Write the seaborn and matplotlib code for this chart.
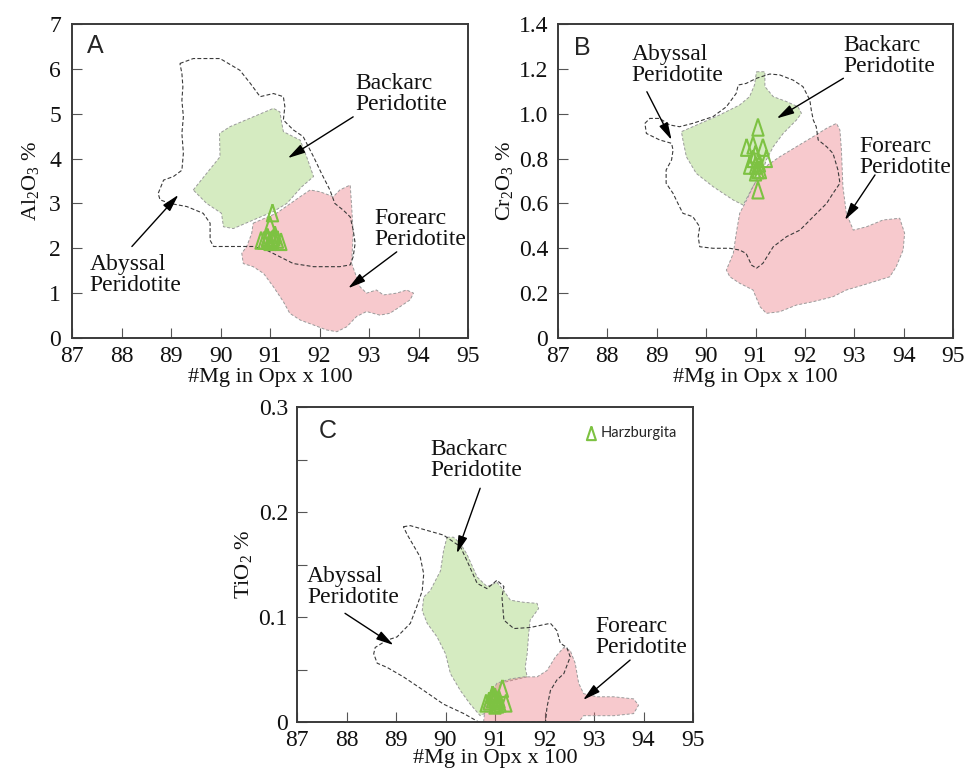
import matplotlib
matplotlib.use('Agg')
import matplotlib.pyplot as plt
import seaborn as sns
import pandas as pd

# ---------------- data ----------------
mg_opx = [91.05, 90.82, 90.95, 91.15, 91.22, 90.88, 91.0, 91.08, 91.05, 91.1, 91.0, 91.05, 90.95, 91.0]
al2o3 = [2.79, 2.18, 2.22, 2.20, 2.15, 2.18, 2.52, 2.25, 2.20, 2.30, 2.15, 2.20, 2.25, 2.18]
cr2o3 = [0.94, 0.85, 0.86, 0.85, 0.80, 0.77, 0.82, 0.78, 0.75, 0.75, 0.74, 0.66, 0.80, 0.77]
tio2 = [0.020, 0.018, 0.022, 0.032, 0.018, 0.020, 0.024, 0.022, 0.020, 0.018, 0.016, 0.017, 0.026, 0.022]

x_ticks = [87, 88, 89, 90, 91, 92, 93, 94, 95]
a_yticks = [0, 1, 2, 3, 4, 5, 6, 7]
b_yticks = [0, 0.2, 0.4, 0.6, 0.8, 1.0, 1.2, 1.4]
b_ylabels = ["0", "0.2", "0.4", "0.6", "0.8", "1.0", "1.2", "1.4"]
c_yticks = [0, 0.1, 0.2, 0.3]
c_ylabels = ["0", "0.1", "0.2", "0.3"]
c_minor = [0.05, 0.15, 0.25]

# Panel A fields
A_back_x = [89.45, 89.72, 89.99, 89.98, 90.19, 90.66, 91.07, 91.20, 91.24, 91.27, 91.61, 91.74, 91.88, 91.64, 91.34, 91.07, 90.66, 90.26, 90.06, 90.02, 89.72]
A_back_y = [3.30, 3.67, 4.04, 4.56, 4.71, 4.93, 5.12, 5.04, 4.78, 4.60, 4.41, 4.04, 3.60, 3.37, 3.00, 2.82, 2.63, 2.44, 2.48, 2.78, 3.00]
A_fore_x = [90.66, 91.13, 91.61, 91.81, 92.01, 92.28, 92.41, 92.62, 92.65, 92.68, 92.65, 92.82, 92.95, 93.15, 93.29, 93.56, 93.76, 93.90, 93.83, 93.63, 93.42, 93.22, 92.95, 92.75, 92.55, 92.35, 92.14, 91.88, 91.61, 91.40, 91.27, 91.07, 90.87, 90.66, 90.46, 90.43, 90.53, 90.63]
A_fore_y = [2.56, 2.78, 3.15, 3.30, 3.26, 3.15, 3.30, 3.41, 2.93, 2.33, 1.66, 1.14, 1.00, 1.07, 0.96, 1.00, 1.07, 1.00, 0.85, 0.70, 0.55, 0.51, 0.59, 0.48, 0.25, 0.14, 0.18, 0.29, 0.40, 0.55, 0.81, 1.14, 1.44, 1.59, 1.66, 1.89, 2.04, 2.33]
A_aby_x = [89.18, 89.45, 89.99, 90.39, 90.60, 90.80, 91.07, 91.27, 91.30, 91.27, 91.47, 91.67, 91.88, 92.04, 92.21, 92.31, 92.48, 92.62, 92.68, 92.72, 92.68, 92.62, 92.41, 91.88, 91.47, 91.20, 90.93, 90.66, 90.26, 89.86, 89.79, 89.79, 89.65, 89.32, 88.98, 88.78, 88.74, 88.85, 89.05, 89.22, 89.25, 89.22, 89.25, 89.22, 89.24, 89.22]
A_aby_y = [6.12, 6.23, 6.23, 5.97, 5.68, 5.38, 5.45, 5.38, 5.16, 4.86, 4.64, 4.49, 4.04, 3.67, 3.30, 3.00, 2.85, 2.70, 2.41, 2.11, 1.81, 1.63, 1.59, 1.59, 1.66, 1.81, 1.96, 2.04, 2.04, 2.04, 2.18, 2.56, 2.78, 2.93, 3.00, 3.08, 3.22, 3.52, 3.60, 3.74, 4.12, 4.56, 4.93, 5.30, 5.60, 5.90]

# Panel B fields
B_back_x = [91.02, 91.19, 91.19, 91.36, 91.63, 91.86, 91.93, 91.83, 91.56, 91.36, 91.22, 91.15, 90.95, 90.75, 90.55, 90.14, 89.80, 89.60, 89.53, 89.50, 89.73, 90.27, 90.68, 90.88, 90.98]
B_back_y = [1.187, 1.187, 1.121, 1.076, 1.054, 1.031, 1.002, 0.972, 0.912, 0.853, 0.794, 0.749, 0.675, 0.593, 0.615, 0.675, 0.734, 0.808, 0.883, 0.920, 0.942, 0.994, 1.039, 1.076, 1.128]
B_fore_x = [91.15, 91.49, 91.83, 92.17, 92.44, 92.64, 92.71, 92.74, 92.77, 92.84, 92.98, 93.25, 93.58, 93.92, 94.02, 93.99, 93.85, 93.72, 93.18, 92.84, 92.57, 92.17, 91.83, 91.49, 91.22, 91.09, 90.95, 90.68, 90.48, 90.41, 90.55, 90.61, 90.68, 90.82, 90.95]
B_fore_y = [0.756, 0.808, 0.853, 0.898, 0.935, 0.957, 0.927, 0.838, 0.675, 0.556, 0.481, 0.496, 0.526, 0.534, 0.467, 0.392, 0.318, 0.273, 0.236, 0.214, 0.184, 0.162, 0.147, 0.117, 0.110, 0.140, 0.214, 0.244, 0.273, 0.303, 0.377, 0.467, 0.556, 0.615, 0.675]
B_aby_x = [88.76, 88.86, 89.06, 89.26, 89.46, 89.73, 90.14, 90.41, 90.61, 90.65, 90.81, 91.02, 91.29, 91.49, 91.76, 91.96, 92.10, 92.13, 92.17, 92.23, 92.27, 92.44, 92.57, 92.67, 92.71, 92.57, 92.44, 92.17, 91.90, 91.63, 91.36, 91.15, 91.02, 90.92, 90.81, 90.68, 90.48, 90.14, 89.87, 89.84, 89.87, 89.73, 89.53, 89.46, 89.33, 89.19, 89.19, 89.30, 89.33, 89.30, 89.06, 88.79]
B_aby_y = [0.957, 0.979, 0.979, 0.950, 0.942, 0.957, 0.987, 1.031, 1.091, 1.128, 1.135, 1.158, 1.177, 1.173, 1.150, 1.121, 1.061, 1.016, 0.972, 0.942, 0.883, 0.853, 0.823, 0.749, 0.690, 0.645, 0.600, 0.541, 0.481, 0.452, 0.407, 0.333, 0.311, 0.325, 0.377, 0.392, 0.400, 0.400, 0.407, 0.452, 0.496, 0.541, 0.556, 0.586, 0.645, 0.690, 0.749, 0.794, 0.838, 0.868, 0.883, 0.912]

# Panel C fields
C_back_x = [90.03, 90.16, 90.30, 90.43, 90.64, 90.84, 91.04, 91.18, 91.31, 91.58, 91.85, 91.88, 91.71, 91.68, 91.65, 91.61, 91.65, 91.38, 91.11, 90.95, 90.70, 90.50, 90.30, 90.10, 90.00, 89.83, 89.63, 89.53, 89.56, 89.69, 89.90, 89.96]
C_back_y = [0.176, 0.176, 0.170, 0.160, 0.138, 0.129, 0.133, 0.125, 0.116, 0.114, 0.113, 0.108, 0.097, 0.084, 0.065, 0.052, 0.043, 0.040, 0.037, 0.012, 0.006, 0.017, 0.030, 0.046, 0.065, 0.081, 0.094, 0.106, 0.119, 0.125, 0.144, 0.163]
C_fore_x = [90.77, 90.80, 90.91, 91.04, 91.31, 91.58, 91.85, 92.05, 92.22, 92.39, 92.52, 92.62, 92.69, 92.79, 93.06, 93.40, 93.80, 93.90, 93.80, 93.40, 93.06, 92.79, 92.69]
C_fore_y = [0.000, 0.014, 0.027, 0.037, 0.041, 0.043, 0.043, 0.049, 0.062, 0.071, 0.068, 0.056, 0.037, 0.027, 0.024, 0.024, 0.022, 0.016, 0.008, 0.006, 0.006, 0.006, 0.000]
C_aby_x = [89.15, 89.29, 89.96, 90.30, 90.43, 90.64, 90.84, 91.04, 91.18, 91.14, 91.18, 91.38, 91.71, 92.12, 92.25, 92.32, 92.45, 92.52, 92.39, 92.25, 92.12, 92.05, 92.02, 90.67, 90.37, 89.96, 89.56, 89.15, 88.82, 88.62, 88.55, 88.58, 88.82, 89.02, 89.29, 89.42, 89.53, 89.56, 89.49, 89.22]
C_aby_y = [0.186, 0.187, 0.178, 0.167, 0.154, 0.132, 0.127, 0.135, 0.129, 0.119, 0.097, 0.089, 0.090, 0.094, 0.087, 0.075, 0.071, 0.062, 0.046, 0.040, 0.030, 0.014, 0.000, 0.000, 0.008, 0.017, 0.030, 0.043, 0.052, 0.056, 0.065, 0.071, 0.078, 0.081, 0.094, 0.110, 0.125, 0.141, 0.157, 0.179]

field_label = "Peridotite"

# ---------------- style ----------------
sns.set_theme(style='white')
plt.rcParams['font.family'] = ['Liberation Serif', 'DejaVu Serif']
plt.rcParams['mathtext.fontset'] = 'custom'
plt.rcParams['mathtext.rm'] = 'Liberation Serif'
plt.rcParams['mathtext.it'] = 'Liberation Serif:italic'
plt.rcParams['mathtext.bf'] = 'Liberation Serif:bold'

GREEN_FILL = (150/255, 205/255, 100/255, 0.40)
PINK_FILL = (235/255, 120/255, 130/255, 0.40)
TRI = '#7dc242'
TRI_MARKER = [(0, 1), (-0.66, -1), (0.66, -1), (0, 1)]
FS = 16
TICK_FS = 17
ANN_FS = 17

fig = plt.figure(figsize=(9.69, 7.69), dpi=100)
axA = fig.add_axes([72/969, 1-338/769, 396/969, 314/769])
axB = fig.add_axes([558/969, 1-338/769, 395/969, 314/769])
axC = fig.add_axes([297/969, 1-722/769, 396/969, 315/769])


def style(ax, ylim, yticks, ylabels, ylabel, ypad, lpad, xlpad=1):
    ax.set_xlim(87, 95)
    ax.set_ylim(*ylim)
    ax.set_xticks(x_ticks)
    ax.set_yticks(yticks)
    ax.set_yticklabels(ylabels)
    ax.grid(False)
    ax.tick_params(direction='in', length=7.5, width=0.8, color='#555555',
                   labelsize=TICK_FS, labelcolor='#111111',
                   left=True, bottom=True, top=False, right=False)
    ax.tick_params(axis='y', pad=ypad)
    ax.tick_params(axis='x', pad=5.5)
    for s in ax.spines.values():
        s.set_visible(True)
        s.set_color('#3a3a3a')
        s.set_linewidth(1.4)
    ax.set_xlabel('#Mg in Opx x 100', fontsize=FS, labelpad=xlpad, color='#111111')
    ax.set_ylabel(ylabel, fontsize=FS, labelpad=lpad, color='#111111')


def fields(ax, bx, by, fx, fy, ax_, ay_):
    ax.fill(bx, by, facecolor=GREEN_FILL, edgecolor='#9a9a9a', lw=0.7,
            linestyle=(0, (3, 2)), zorder=1)
    ax.fill(fx, fy, facecolor=PINK_FILL, edgecolor='#9a9a9a', lw=0.7,
            linestyle=(0, (3, 2)), zorder=1.1)
    ax.fill(ax_, ay_, facecolor='none', edgecolor='#3a3a3a', lw=0.8,
            linestyle=(0, (3.5, 2)), zorder=1.5)


def label(ax, x, y, name, tail, tip):
    ax.text(x, y, name + "\n" + field_label, fontsize=ANN_FS, ha='left', va='center',
            linespacing=1.02, color='#111111', zorder=4)
    ax.annotate('', xy=tip, xytext=tail,
                arrowprops=dict(arrowstyle='-|>,head_length=0.75,head_width=0.2',
                                color='black', lw=1.0, shrinkA=0, shrinkB=0,
                                mutation_scale=14), zorder=4)


def points(ax, y, lab=None):
    df = pd.DataFrame({'mg': mg_opx, 'v': y})
    sns.scatterplot(data=df, x='mg', y='v', ax=ax, marker=TRI_MARKER, s=150,
                    color=TRI, facecolor='none', edgecolor=TRI, linewidth=1.5,
                    zorder=3, label=lab, legend=lab is not None)


# Panel A
fields(axA, A_back_x, A_back_y, A_fore_x, A_fore_y, A_aby_x, A_aby_y)
points(axA, al2o3)
style(axA, (0, 7), a_yticks, [str(v) for v in a_yticks], r'Al$_2$O$_3$ %', 8, 5.5)
label(axA, 92.72, 5.44, "Backarc", (92.68, 4.93), (91.36, 4.01))
label(axA, 93.10, 2.43, "Forearc", (93.56, 1.92), (92.58, 1.11))
label(axA, 87.36, 1.40, "Abyssal", (88.21, 2.04), (89.15, 3.19))
axA.text(87.48, 6.51, 'A', fontsize=18, family='Liberation Sans', ha='center', va='center')

# Panel B
fields(axB, B_back_x, B_back_y, B_fore_x, B_fore_y, B_aby_x, B_aby_y)
points(axB, cr2o3)
style(axB, (0, 1.4), b_yticks, b_ylabels, r'Cr$_2$O$_3$ %', 7, 3)
label(axB, 88.49, 1.217, "Abyssal", (88.80, 1.098), (89.30, 0.883))
label(axB, 92.78, 1.257, "Backarc", (92.78, 1.158), (91.43, 0.979))
label(axB, 93.11, 0.807, "Forearc", (93.42, 0.727), (92.81, 0.526))
axB.text(87.49, 1.295, 'B', fontsize=18, family='Liberation Sans', ha='center', va='center')

# Panel C
fields(axC, C_back_x, C_back_y, C_fore_x, C_fore_y, C_aby_x, C_aby_y)
points(axC, tio2, lab='Harzburgita')
style(axC, (0, 0.3), c_yticks, c_ylabels, r'TiO$_2$ %', 6.5, 3, xlpad=-1.5)
axC.set_yticks(c_minor, minor=True)
axC.tick_params(axis='y', which='minor', direction='in', length=7.5, width=0.8,
                color='#555555', left=True)
label(axC, 89.69, 0.2495, "Backarc", (90.70, 0.2226), (90.23, 0.1606))
label(axC, 87.20, 0.1286, "Abyssal", (87.97, 0.1035), (88.95, 0.0733))
label(axC, 93.02, 0.081, "Forearc", (93.73, 0.059), (92.78, 0.021))
axC.text(87.62, 0.2767, 'C', fontsize=18, family='Liberation Sans', ha='center', va='center')
leg = axC.legend(loc='center left', bbox_to_anchor=(0.725, 0.917), frameon=False,
                 prop={'family': 'Lato', 'size': 10.5}, handlelength=1.0,
                 handletextpad=0.15, borderpad=0, borderaxespad=0, markerscale=0.8)

fig.savefig('out.png', dpi=100)
